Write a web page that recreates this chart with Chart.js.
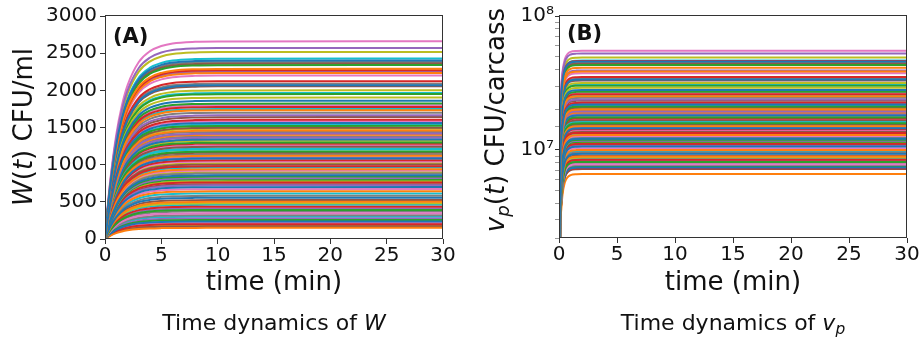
<!DOCTYPE html>
<html>
<head>
<meta charset="utf-8">
<script src="https://cdn.jsdelivr.net/npm/chart.js@4/dist/chart.umd.min.js"></script>
<style>
html,body{margin:0;padding:0;background:#fff;}
body{width:923px;height:342px;position:relative;overflow:hidden;font-family:"DejaVu Sans",sans-serif;color:#111;}
.wrap{position:absolute;top:0;height:342px;}
#wrapA{left:0;width:460px;}
#wrapB{left:460px;width:463px;}
.panel{position:absolute;font-weight:bold;font-size:21px;line-height:24px;white-space:nowrap;}
.ytitle{position:absolute;width:260px;height:30px;line-height:30px;font-size:26px;text-align:center;white-space:nowrap;transform:rotate(-90deg);}
.cap{position:absolute;width:400px;top:310px;font-size:22px;line-height:26px;text-align:center;white-space:nowrap;}
sub{font-size:0.7em;vertical-align:-0.28em;line-height:0;}
</style>
</head>
<body>
<div id="wrapA" class="wrap"><canvas id="cA" width="460" height="342"></canvas></div>
<div id="wrapB" class="wrap"><canvas id="cB" width="463" height="342"></canvas></div>
<div class="panel" style="left:113px;top:24px;">(A)</div>
<div class="panel" style="left:567px;top:21px;">(B)</div>
<div class="ytitle" style="left:-107px;top:112px;"><i>W</i>(<i>t</i>) CFU/ml</div>
<div class="ytitle" style="left:365px;top:105px;"><i>v</i><sub><i>p</i></sub>(<i>t</i>) CFU/carcass</div>
<div class="cap" style="left:74px;">Time dynamics of <i>W</i></div>
<div class="cap" style="left:533px;">Time dynamics of <i>v</i><sub><i>p</i></sub></div>
<script>
// ---- data ----
// time points (min) at which the rise of each curve was read
const timesA = [0, 0.25, 0.5, 1, 1.5, 2, 3, 4, 5, 6, 8, 10, 30];
// fraction of the final level reached at those times (panel A)
const riseA  = [0, 0.171, 0.313, 0.528, 0.675, 0.777, 0.895, 0.950, 0.976, 0.989, 0.9975, 0.9994, 1];
const timesB = [0, 0.1, 0.2, 0.3, 0.5, 0.75, 1, 1.5, 2, 30];
const riseB  = [0.01, 0.33, 0.55, 0.70, 0.865, 0.95, 0.982, 0.9975, 1, 1];

// final (plateau) level of every curve, W in CFU/ml (rows of 10 = colour cycle)
const plateauA = [
  1561, 1459, 1522, 1604, 1418, 1498, 1583, 1441, 1483, 1537,
  555, 500, 390, 434, 410, 524, 345, 370, 480, 460,
  2400, 2290, 2340, 2270, 2570, 2360, 2660, 2380, 2516, 2427,
  858, 938, 841, 979, 819, 1001, 921, 882, 899, 962,
  1860, 1733, 1822, 1777, 1665, 1640, 1800, 1700, 1903, 1750,
  235, 150, 255, 200, 275, 170, 215, 320, 185, 300,
  1082, 1121, 1178, 1059, 1098, 1162, 1043, 1139, 1018, 1203,
  2070, 2234, 1950, 2122, 2250, 2055, 2200, 2090, 2000, 1965,
  698, 642, 802, 761, 722, 738, 671, 581, 779, 613,
  1338, 1402, 1297, 1283, 1362, 1241, 1258, 1379, 1321, 1219
];
// final level of every curve, v_p in CFU/carcass
const plateauB = [
  21.8e6, 20.0e6, 21.1e6, 22.5e6, 19.4e6, 20.7e6, 22.2e6, 19.7e6, 20.4e6, 21.4e6,
  9.35e6, 8.93e6, 8.14e6, 8.44e6, 8.28e6, 9.1e6, 7.83e6, 8.0e6, 8.78e6, 8.63e6,
  45.8e6, 41.0e6, 43.0e6, 46.2e6, 52.5e6, 44.0e6, 55.0e6, 45.0e6, 49.0e6, 46.5e6,
  12.1e6, 12.9e6, 11.9e6, 13.4e6, 11.7e6, 13.6e6, 12.7e6, 12.3e6, 12.5e6, 13.1e6,
  28.0e6, 25.2e6, 27.2e6, 26.1e6, 23.8e6, 23.3e6, 26.7e6, 24.5e6, 29.1e6, 25.6e6,
  7.4e6, 6.6e6, 7.45e6, 7.3e6, 7.5e6, 7.2e6, 7.35e6, 7.7e6, 7.25e6, 7.6e6,
  14.5e6, 15.0e6, 15.8e6, 14.3e6, 14.8e6, 15.6e6, 14.1e6, 15.3e6, 13.8e6, 16.1e6,
  33.5e6, 38.5e6, 30.2e6, 35.0e6, 39.2e6, 33.0e6, 37.3e6, 34.0e6, 31.6e6, 30.6e6,
  10.6e6, 10.0e6, 11.5e6, 11.1e6, 10.7e6, 10.9e6, 10.3e6, 9.55e6, 11.3e6, 9.8e6,
  18.1e6, 19.0e6, 17.5e6, 17.2e6, 18.4e6, 16.6e6, 16.9e6, 18.7e6, 17.8e6, 16.4e6
];
const xTicks = [0, 5, 10, 15, 20, 25, 30];
const yTicksA = [0, 500, 1000, 1500, 2000, 2500, 3000];
const yTickLabelsB = {7: '10\u2077', 8: '10\u2078'};

// ---- styling ----
const palette = ['#1f77b4','#ff7f0e','#2ca02c','#d62728','#9467bd','#8c564b','#e377c2','#7f7f7f','#bcbd22','#17becf'];
Chart.defaults.font.family = '"DejaVu Sans", sans-serif';
Chart.defaults.color = '#111';

const frame = {
  id: 'frame',
  afterDatasetsDraw(chart) {
    const a = chart.chartArea, ctx = chart.ctx;
    ctx.save();
    ctx.strokeStyle = '#333';
    ctx.lineWidth = 1;
    ctx.strokeRect(a.left + 0.5, a.top - 0.5, a.right - a.left - 1, a.bottom - a.top);
    ctx.restore();
  }
};

function buildSets(times, rise, plateaus) {
  return plateaus.map((p, i) => ({
    data: times.map((t, k) => ({x: t, y: p * rise[k]})),
    borderColor: palette[i % 10],
    borderWidth: 2,
    pointRadius: 0,
    fill: false,
    cubicInterpolationMode: 'monotone'
  }));
}

function xScale(h) {
  return {
    type: 'linear', min: 0, max: 30,
    afterBuildTicks: s => { s.ticks = xTicks.map(v => ({value: v})); },
    ticks: {font: {size: 20}, color: '#111', padding: 0, maxRotation: 0, autoSkip: false, callback: v => String(v)},
    grid: {drawOnChartArea: false, drawTicks: true, tickLength: 5, color: '#333'},
    border: {display: false},
    title: {display: true, text: 'time (min)', font: {size: 26}, color: '#111', padding: {top: 0, bottom: 43}},
    afterFit: s => { s.height = h; }
  };
}

new Chart(document.getElementById('cA'), {
  type: 'line',
  data: {datasets: buildSets(timesA, riseA, plateauA)},
  plugins: [frame],
  options: {
    responsive: false, animation: false, events: [],
    layout: {padding: {left: 0, top: 16, right: 17, bottom: 0}},
    plugins: {legend: {display: false}, tooltip: {enabled: false}},
    scales: {
      x: xScale(103),
      y: {
        type: 'linear', min: 0, max: 3000,
        afterBuildTicks: s => { s.ticks = yTicksA.map(v => ({value: v})); },
        ticks: {font: {size: 20}, color: '#111', padding: 3, callback: v => String(v)},
        grid: {drawOnChartArea: false, drawTicks: true, tickLength: 5, color: '#333'},
        border: {display: false},
        afterFit: s => { s.width = 105; }
      }
    }
  }
});

new Chart(document.getElementById('cB'), {
  type: 'line',
  data: {datasets: buildSets(timesB, riseB, plateauB)},
  plugins: [frame],
  options: {
    responsive: false, animation: false, events: [],
    layout: {padding: {left: 0, top: 16, right: 16, bottom: 0}},
    plugins: {legend: {display: false}, tooltip: {enabled: false}},
    scales: {
      x: xScale(104),
      y: {
        type: 'logarithmic', min: 2.2e6, max: 1e8,
        ticks: {
          font: {size: 20}, color: '#111', padding: 1, autoSkip: false,
          callback: v => {
            const e = Math.log10(v);
            return Math.abs(e - Math.round(e)) < 1e-9 && yTickLabelsB[Math.round(e)] ? yTickLabelsB[Math.round(e)] : '';
          }
        },
        grid: {
          drawOnChartArea: false, drawTicks: true, tickLength: 4,
          tickColor: c => {
            if (!c.tick) return '#333';
            const e = Math.log10(c.tick.value);
            return Math.abs(e - Math.round(e)) < 1e-9 ? '#333' : '#999';
          }
        },
        border: {display: false},
        afterFit: s => { s.width = 99; }
      }
    }
  }
});
</script>
</body>
</html>
